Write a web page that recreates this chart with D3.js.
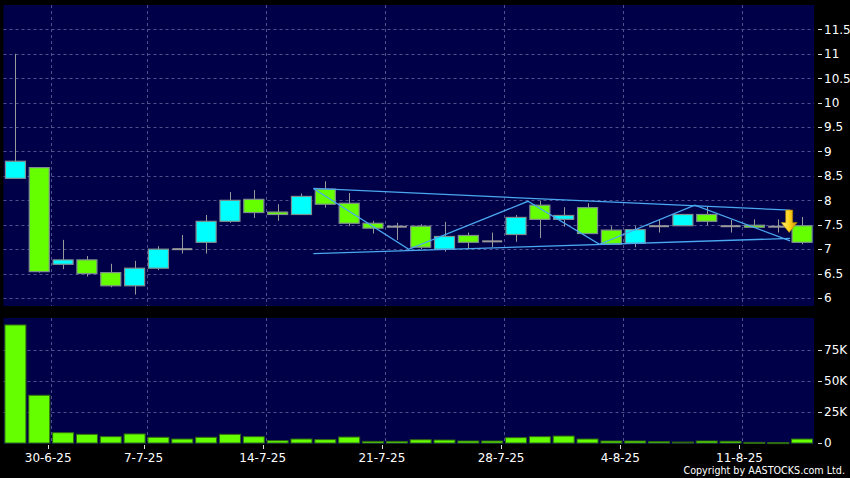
<!DOCTYPE html>
<html><head><meta charset="utf-8">
<script src="https://cdn.jsdelivr.net/npm/d3@7"></script>
<style>html,body{margin:0;padding:0;background:#000;}svg{display:block;}</style>
</head><body>
<script>
// ---- data ----
const openP  = [8.45,8.67,6.69,6.78,6.52,6.25,6.61,7.00,7.14,7.57,8.02,7.76,7.71,8.23,7.94,7.53,7.46,7.47,7.00,7.28,7.16,7.30,7.90,7.61,7.85,7.39,7.12,7.47,7.48,7.71,7.47,7.49,7.46,7.48];
const highP  = [11.0,8.67,7.19,6.86,6.70,6.76,7.06,7.29,7.70,8.17,8.21,7.92,8.14,8.39,8.15,7.58,7.54,7.51,7.56,7.34,7.34,7.70,7.99,7.86,7.94,7.47,7.47,7.60,7.71,7.87,7.60,7.61,7.61,7.66];
const lowP   = [8.45,6.52,6.59,6.44,6.22,6.07,6.57,6.91,6.91,7.54,7.64,7.58,7.70,7.85,7.47,7.32,7.19,7.00,6.95,7.00,7.04,7.15,7.23,7.46,7.32,7.10,7.04,7.34,7.48,7.49,7.34,7.45,7.34,7.10];
const closeP = [8.80,6.54,6.78,6.50,6.25,6.61,7.00,7.00,7.57,8.00,7.75,7.71,8.08,7.92,7.53,7.43,7.46,7.04,7.26,7.14,7.16,7.65,7.61,7.69,7.32,7.10,7.40,7.47,7.71,7.57,7.47,7.45,7.46,7.14];
const volumeK = [95.2,38.5,8.3,7.0,5.1,7.3,4.6,3.2,4.6,7.0,5.1,1.9,3.2,2.7,4.8,1.3,1.3,2.6,2.4,1.6,1.6,4.3,5.1,5.6,3.2,1.6,1.6,1.1,0.8,1.6,1.4,0.5,0.3,3.2];
const dateTickIdx = [2,6,11,16,21,26,31];
const dateTickLabels = ["30-6-25","7-7-25","14-7-25","21-7-25","28-7-25","4-8-25","11-8-25"];
const priceTicks = [6,6.5,7,7.5,8,8.5,9,9.5,10,10.5,11,11.5];
const volTicks = [0,25000,50000,75000];
const upperLine = [[12.5,8.243],[32.5,7.80]];
const lowerLine = [[12.5,6.91],[32.5,7.22]];
const zigzag = [[12.5,8.243],[16.5,6.996],[21.5,7.98],[24.5,7.10],[28.5,7.90],[32.5,7.17]];
const arrowPt = {i:32.5, top:7.80, tip:7.34};

// ---- layout ----
const W=850,H=478;
const L=3.5,R=814;
const mainTop=5,mainBot=306,volTop=318,volBot=444;
const n=openP.length;
const svg=d3.select("body").append("svg").attr("width",W).attr("height",H);
svg.append("rect").attr("width",W).attr("height",H).attr("fill","#000");

const x=d3.scaleBand().domain(d3.range(n)).range([L,R]).padding(0);
const step=x.step();
const xc=t=>L+step*(t+0.5);
const y=d3.scaleLinear().domain([5.836,12]).range([mainBot,mainTop]);
const yv=d3.scaleLinear().domain([0,100000]).range([443,319]);

const bg="#000048", grid="#50508e";
svg.append("rect").attr("x",L).attr("y",mainTop).attr("width",R-L).attr("height",mainBot-mainTop).attr("fill",bg);
svg.append("rect").attr("x",L).attr("y",volTop).attr("width",R-L).attr("height",volBot-volTop).attr("fill",bg);

// grids
const gm=svg.append("g");
gm.selectAll("line.h").data(priceTicks).join("line")
 .attr("x1",L).attr("x2",R).attr("y1",d=>Math.round(y(d))+0.5).attr("y2",d=>Math.round(y(d))+0.5)
 .attr("stroke",grid).attr("stroke-dasharray","3,3");
gm.selectAll("line.v").data(dateTickIdx).join("line")
 .attr("x1",d=>Math.round(x(d))+0.5).attr("x2",d=>Math.round(x(d))+0.5).attr("y1",mainTop).attr("y2",mainBot)
 .attr("stroke",grid).attr("stroke-dasharray","3,3");
const gv=svg.append("g");
gv.selectAll("line.h").data(volTicks.slice(1)).join("line")
 .attr("x1",L).attr("x2",R).attr("y1",d=>Math.round(yv(d))+0.5).attr("y2",d=>Math.round(yv(d))+0.5)
 .attr("stroke",grid).attr("stroke-dasharray","3,3");
gv.selectAll("line.v").data(dateTickIdx).join("line")
 .attr("x1",d=>Math.round(x(d))+0.5).attr("x2",d=>Math.round(x(d))+0.5).attr("y1",volTop).attr("y2",volBot)
 .attr("stroke",grid).attr("stroke-dasharray","3,3");

// candles
const cw=20, up="#00ffff", dn="#66ff00", edge="#7f8f8f";
const cg=svg.append("g");
const idx=d3.range(n);
cg.selectAll("line.w").data(idx).join("line")
 .attr("x1",i=>Math.round(xc(i))+0.5).attr("x2",i=>Math.round(xc(i))+0.5)
 .attr("y1",i=>y(highP[i])).attr("y2",i=>y(lowP[i]))
 .attr("stroke","#9a9a9a").attr("stroke-width",1);
cg.selectAll("rect.b").data(idx.filter(i=>Math.abs(openP[i]-closeP[i])>0.001)).join("rect")
 .attr("x",i=>xc(i)-cw/2).attr("width",cw)
 .attr("y",i=>y(Math.max(openP[i],closeP[i])))
 .attr("height",i=>Math.max(2,Math.abs(y(openP[i])-y(closeP[i]))))
 .attr("fill",i=>closeP[i]>openP[i]?up:dn)
 .attr("stroke",edge).attr("stroke-width",1.2);
cg.selectAll("line.d").data(idx.filter(i=>Math.abs(openP[i]-closeP[i])<=0.001)).join("line")
 .attr("x1",i=>xc(i)-cw/2).attr("x2",i=>xc(i)+cw/2)
 .attr("y1",i=>y(openP[i])).attr("y2",i=>y(openP[i]))
 .attr("stroke","#9a9a9a").attr("stroke-width",2);

// trend lines
const line=d3.line().x(d=>xc(d[0])).y(d=>y(d[1]));
[upperLine,lowerLine,zigzag].forEach(pts=>{
  svg.append("path").attr("d",line(pts)).attr("fill","none").attr("stroke","#4aa8f0").attr("stroke-width",1.3);
});

// arrow
const defs=svg.append("defs");
const gr=defs.append("linearGradient").attr("id","ag").attr("x1","0").attr("x2","1").attr("y1","0").attr("y2","0");
gr.append("stop").attr("offset","0").attr("stop-color","#fff080");
gr.append("stop").attr("offset","0.5").attr("stop-color","#ffd21a");
gr.append("stop").attr("offset","1").attr("stop-color","#c89000");
{
  const ax=xc(arrowPt.i)-1, yt=y(arrowPt.top), yp=y(arrowPt.tip);
  const headH=10, sw=3.5, hw=8;
  const p=[[ax-sw,yt],[ax+sw,yt],[ax+sw,yp-headH],[ax+hw,yp-headH],[ax,yp],[ax-hw,yp-headH],[ax-sw,yp-headH]];
  svg.append("path").attr("d","M"+p.map(d=>d.join(",")).join("L")+"Z").attr("fill","url(#ag)").attr("stroke","#b08000").attr("stroke-width",0.6);
}

// volume
const vg=svg.append("g");
vg.selectAll("rect").data(idx).join("rect")
 .attr("x",i=>xc(i)-10.5).attr("width",21)
 .attr("y",i=>yv(volumeK[i]*1000)).attr("height",i=>Math.max(1,yv(0)-yv(volumeK[i]*1000)))
 .attr("fill",dn).attr("stroke","#2f6a10").attr("stroke-width",1);

// axes text
const font="DejaVu Sans";
const ay=svg.append("g").attr("font-family",font).attr("font-size",12).attr("fill","#fff");
ay.selectAll("line").data(priceTicks).join("line")
 .attr("x1",818).attr("x2",822).attr("y1",d=>Math.round(y(d))+0.5).attr("y2",d=>Math.round(y(d))+0.5).attr("stroke","#ddd");
ay.selectAll("text").data(priceTicks).join("text")
 .attr("x",824).attr("y",d=>y(d)).attr("dy","0.36em").text(d=>d3.format("")(d));
const avy=svg.append("g").attr("font-family",font).attr("font-size",12).attr("fill","#fff");
avy.selectAll("line").data(volTicks).join("line")
 .attr("x1",818).attr("x2",822).attr("y1",d=>Math.round(yv(d))+0.5).attr("y2",d=>Math.round(yv(d))+0.5).attr("stroke","#ddd");
avy.selectAll("text").data(volTicks).join("text")
 .attr("x",824).attr("y",d=>yv(d)).attr("dy","0.36em").text(d=>d===0?"0":(d/1000)+"K");
const ax=svg.append("g").attr("font-family",font).attr("font-size",12).attr("fill","#fff");
ax.selectAll("line").data(dateTickIdx).join("line")
 .attr("x1",d=>Math.round(x(d)-3)+0.5).attr("x2",d=>Math.round(x(d)-3)+0.5).attr("y1",445).attr("y2",449).attr("stroke","#ddd");
ax.selectAll("text").data(dateTickIdx).join("text")
 .attr("x",d=>x(d)-3).attr("y",461.5).attr("text-anchor","middle").text((d,k)=>dateTickLabels[k]);
svg.append("text").attr("x",845).attr("y",473.5).attr("text-anchor","end")
 .attr("font-family",font).attr("font-size",9.6).attr("fill","#fff")
 .text("Copyright by AASTOCKS.com Ltd.");
</script>
</body></html>
